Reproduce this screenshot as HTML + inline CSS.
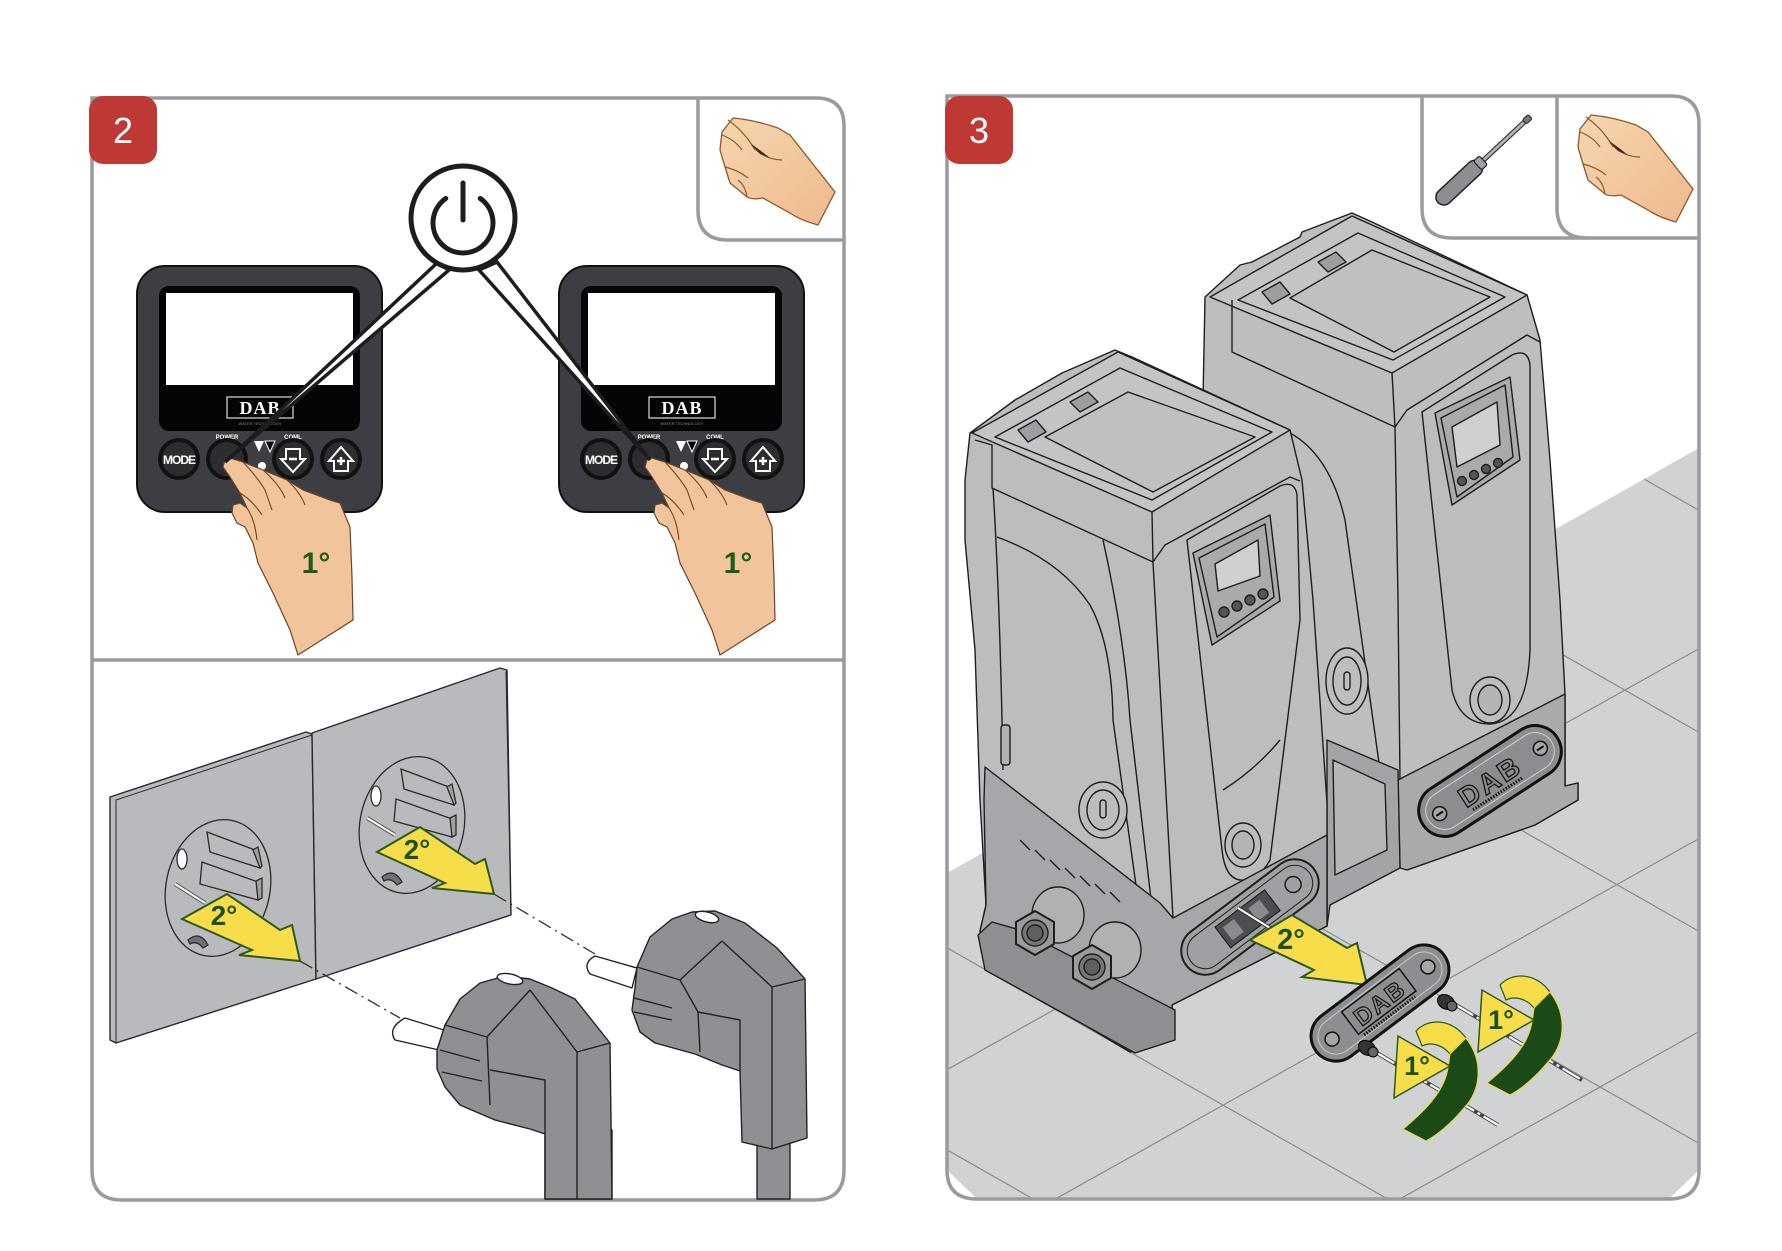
<!DOCTYPE html>
<html><head><meta charset="utf-8"><style>
html,body{margin:0;padding:0;background:#fff;width:1782px;height:1251px;overflow:hidden;}
svg{display:block;}
.sans{font-family:"Liberation Sans",sans-serif;}
.serif{font-family:"Liberation Serif",serif;}
</style></head><body>
<svg width="1782" height="1251" viewBox="0 0 1782 1251" xmlns="http://www.w3.org/2000/svg" class="sans">
<defs>
<clipPath id="floorClip"><polygon points="947,873 1699,448 1699,1170 1669,1199 977,1199 947,1170"/></clipPath>
<linearGradient id="skin" x1="0" y1="0" x2="1" y2="1"><stop offset="0" stop-color="#f6d6b0"/><stop offset="1" stop-color="#eeb98c"/></linearGradient>
</defs>
<rect width="1782" height="1251" fill="#fff"/>

<!-- ===== RIGHT PANEL FLOOR ===== -->
<polygon points="947,873 1699,448 1699,1170 1669,1199 977,1199 947,1170" fill="#d1d2d4"/>
<g clip-path="url(#floorClip)" stroke="#8a8b8e" stroke-width="1.2" fill="none">
<line x1="947" y1="1069.7" x2="1699" y2="648.6"/>
<line x1="1053.6" y1="1200" x2="1699" y2="838.6"/>
<line x1="1398" y1="1200" x2="1699" y2="1031.6"/>
<line x1="947" y1="81.8" x2="1699" y2="510.4"/>
<line x1="947" y1="303.8" x2="1699" y2="732.4"/>
<line x1="947" y1="502.8" x2="1699" y2="931.4"/>
<line x1="947" y1="714.8" x2="1699" y2="1143.4"/>
<line x1="947" y1="947.8" x2="1389.5" y2="1200"/>
<line x1="947" y1="1149.8" x2="1035" y2="1200"/>
</g>

<!-- ===== BACK PUMP ===== -->
<g stroke="#1e1e1e" stroke-width="1.4" stroke-linejoin="round">
<polygon points="1205,297 1240,265 1252,262 1300,237 1302,232 1352,213 1372,222 1527,295 1540,340 1550,460 1560,600 1565,694 1565,786 1578,783 1578,800 1535,825 1407,870 1330,840 1290,700 1250,450 1203,400" fill="#bdbec0"/>
<polygon points="1210,297 1352,216 1527,295 1392,373" fill="#c3c4c6"/>
<polygon points="1238,300 1358,233 1505,297 1393,360" fill="none"/>
<polygon points="1290,298 1372,250 1490,297 1394,352" fill="#bfc0c2"/>
<polygon points="1262,292 1280,282 1290,294 1272,304" fill="#9d9ea1"/>
<polygon points="1318,262 1336,252 1346,262 1328,272" fill="#9d9ea1"/>
<polyline points="1232,300 1232,352 1395,427 1392,373" fill="none"/>
<polyline points="1395,427 1407,410 1527,335 1540,342" fill="none"/>
<polyline points="1395,427 1398,600 1400,780" fill="none"/>
<path d="M1290,433 Q1330,455 1345,520 L1380,770" fill="none"/>
<path d="M1422,412 L1512,355 Q1528,348 1530,365 L1530,650 Q1527,722 1490,724 Q1460,724 1452,690 Z" fill="#bcbdbf"/>
<polygon points="1435,413 1510,377 1520,460 1452,505" fill="#a9aaac"/>
<polygon points="1441,418 1505,385 1513,457 1457,497" fill="none"/>
<polygon points="1452,427 1497,402 1500,445 1457,467" fill="#cfd0d2"/>
<circle cx="1462" cy="481" r="4.5" fill="#555"/><circle cx="1474" cy="475" r="4.5" fill="#555"/><circle cx="1486" cy="469" r="4.5" fill="#555"/><circle cx="1498" cy="463" r="4.5" fill="#555"/>
<ellipse cx="1490" cy="700" rx="20" ry="23" fill="none"/>
<ellipse cx="1490" cy="700" rx="12" ry="15" fill="#b3b4b6"/>
<ellipse cx="1347" cy="681" rx="21" ry="33" fill="#bdbec0"/>
<ellipse cx="1347" cy="681" rx="14" ry="24" fill="none"/>
<rect x="1344" y="672" width="6" height="18" rx="3" fill="none"/>
<polygon points="1398,780 1565,694 1565,786 1578,783 1578,800 1535,825 1407,870 1400,868" fill="#a9aaac"/>
<polygon points="1327,740 1398,770 1400,868 1330,905 1327,926" fill="#a3a4a7"/>
<polygon points="1333,760 1385,784 1387,850 1335,875" fill="#b5b6b8"/>
</g>
<g transform="translate(1490,781) rotate(-33)">
<rect x="-80" y="-26" width="160" height="52" rx="26" fill="#8c8d90" stroke="#111" stroke-width="3"/>
<rect x="-73" y="-19" width="146" height="38" rx="19" fill="none" stroke="#d0d1d3" stroke-width="1"/>
<text x="0" y="10" text-anchor="middle" font-size="28" font-weight="bold" fill="#8c8d90" stroke="#111" stroke-width="1.3" letter-spacing="3">DAB</text>
<line x1="-30" y1="15" x2="30" y2="15" stroke="#111" stroke-width="3" stroke-dasharray="1.5 1.5"/>
<circle cx="-60" cy="0" r="7" fill="#a5a6a8" stroke="#111" stroke-width="1.5"/><line x1="-64" y1="0" x2="-56" y2="0" stroke="#111" stroke-width="2"/>
<circle cx="60" cy="0" r="7" fill="#a5a6a8" stroke="#111" stroke-width="1.5"/><line x1="56" y1="0" x2="64" y2="0" stroke="#111" stroke-width="2"/>
</g>

<!-- ===== FRONT PUMP ===== -->
<g stroke="#1e1e1e" stroke-width="1.4" stroke-linejoin="round">
<polygon points="970,433 1015,400 1062,373 1115,350 1132,357 1290,430 1302,480 1313,600 1327,803 1327,926 1172,1005 1172,1036 1130,1052 990,968 980,931 986,905 980,800 975,650 965,540 965,480" fill="#bcbdbf"/>
<polygon points="972,433 1118,352 1290,430 1152,512" fill="#c3c4c6"/>
<polygon points="995,437 1120,368 1272,432 1152,500" fill="none"/>
<polygon points="1045,437 1128,392 1255,437 1153,492" fill="#bfc0c2"/>
<polygon points="1018,430 1036,420 1046,432 1028,442" fill="#9d9ea1"/>
<polygon points="1070,402 1088,392 1098,402 1080,412" fill="#9d9ea1"/>
<polyline points="975,440 992,445 992,488 1153,562" fill="none"/>
<polyline points="1153,562 1165,545 1290,477 1300,481" fill="none"/>
<polyline points="1152,512 1153,562 1173,918" fill="none"/>
<path d="M993,488 Q1000,600 1003,770" fill="none"/>
<path d="M997,537 Q1060,560 1090,605 Q1112,645 1113,720 L1140,914" fill="none"/>
<path d="M1103,540 Q1125,640 1130,720 L1153,916" fill="none"/>
<path d="M1187,540 L1280,486 Q1295,480 1297,495 L1300,620 L1270,860 Q1258,882 1240,880 Q1225,878 1222,850 Z" fill="#bcbdbf"/>
<path d="M1223,790 Q1255,770 1280,740" fill="none"/>
<polygon points="1193,553 1270,515 1280,601 1212,645" fill="#a9aaac"/>
<polygon points="1199,558 1265,524 1274,597 1217,637" fill="none"/>
<polygon points="1215,564 1258,540 1260,576 1218,591" fill="#cfd0d2"/>
<circle cx="1224" cy="612" r="5" fill="#555"/><circle cx="1237" cy="606" r="5" fill="#555"/><circle cx="1250" cy="600" r="5" fill="#555"/><circle cx="1263" cy="594" r="5" fill="#555"/>
<ellipse cx="1243" cy="845" rx="18" ry="22" fill="none"/>
<ellipse cx="1243" cy="845" rx="11" ry="14" fill="#b3b4b6"/>
<ellipse cx="1103" cy="810" rx="24" ry="28" fill="#bcbdbf"/>
<ellipse cx="1103" cy="810" rx="16" ry="20" fill="none"/>
<rect x="1100" y="800" width="6" height="18" rx="3" fill="none"/>
<rect x="1001" y="725" width="9" height="40" rx="3" fill="#b0b1b3"/>
<polygon points="985,767 1160,903 1173,918 1327,835 1327,926 1172,1005 1172,1036 1130,1052 990,968 980,931 986,905 984,800" fill="#a6a7aa"/>
<path d="M1020,840 l10,10 M1035,850 l10,10 M1050,860 l10,10 M1065,868 l10,10 M1080,876 l10,10 M1095,884 l10,10 M1110,892 l10,10" fill="none"/>
<polygon points="978,935 992,922 1020,930 1175,1010 1175,1040 1135,1053 985,970" fill="#8e8f92"/>
<ellipse cx="1058" cy="915" rx="26" ry="28" fill="#b0b1b3"/>
<ellipse cx="1115" cy="950" rx="26" ry="28" fill="#b0b1b3"/>
<polygon points="1035,911 1054,922 1054,944 1035,955 1016,944 1016,922" fill="#9a9b9e" stroke-width="2"/>
<circle cx="1035" cy="933" r="13" fill="#76777a"/><circle cx="1035" cy="933" r="8" fill="#5f6063"/>
<polygon points="1092,945 1111,956 1111,978 1092,989 1073,978 1073,956" fill="#9a9b9e" stroke-width="2"/>
<circle cx="1092" cy="967" r="13" fill="#76777a"/><circle cx="1092" cy="967" r="8" fill="#5f6063"/>
</g>
<g transform="translate(1250,917) rotate(-37)">
<rect x="-80" y="-24" width="160" height="48" rx="24" fill="#9fa0a3" stroke="#1e1e1e" stroke-width="2"/>
<rect x="-74" y="-18" width="148" height="36" rx="18" fill="none" stroke="#1e1e1e" stroke-width="1"/>
<rect x="-34" y="-13" width="62" height="26" fill="#4d4e51" stroke="#111"/>
<rect x="-28" y="-8" width="14" height="16" fill="#8a8b8e"/><rect x="4" y="-8" width="14" height="16" fill="#8a8b8e"/>
<circle cx="54" cy="0" r="8" fill="none" stroke="#1e1e1e" stroke-width="1.5"/>
</g>
<line x1="1238" y1="908" x2="1270" y2="928" stroke="#333" stroke-width="4"/>
<line x1="1238" y1="908" x2="1270" y2="928" stroke="#fff" stroke-width="2"/>

<!-- 2° arrow right panel -->
<polygon points="1250,940 1292,915 1347,948 1357,943 1367,985 1302,977 1314,970" fill="#f7dd4a" stroke="#2d5a1a" stroke-width="2" stroke-linejoin="miter"/>
<text x="1291" y="949" text-anchor="middle" font-size="29" font-weight="bold" fill="#1e4f16">2°</text>

<!-- removed plate -->
<g transform="translate(1380,1003) rotate(-37)">
<rect x="-80" y="-25" width="160" height="50" rx="25" fill="#8d8e91" stroke="#111" stroke-width="3"/>
<rect x="-73" y="-18" width="146" height="36" rx="18" fill="none" stroke="#cacbcd" stroke-width="1"/>
<rect x="-36" y="-16" width="72" height="28" fill="none" stroke="#111" stroke-width="1.5"/>
<text x="0" y="8" text-anchor="middle" font-size="24" font-weight="bold" fill="#8d8e91" stroke="#111" stroke-width="1.2" letter-spacing="2">DAB</text>
<line x1="-32" y1="16" x2="32" y2="16" stroke="#111" stroke-width="3" stroke-dasharray="1.5 1.5"/>
<circle cx="-60" cy="0" r="7" fill="#a5a6a8" stroke="#111" stroke-width="1.5"/>
<circle cx="60" cy="0" r="7" fill="#a5a6a8" stroke="#111" stroke-width="1.5"/>
</g>

<!-- dash-dot screw lines -->
<line x1="1456" y1="1005" x2="1582" y2="1080" stroke="#444" stroke-width="4"/>
<line x1="1456" y1="1005" x2="1582" y2="1080" stroke="#fff" stroke-width="2.2" stroke-dasharray="20 4 3 4"/>
<line x1="1377" y1="1053" x2="1498" y2="1125" stroke="#444" stroke-width="4"/>
<line x1="1377" y1="1053" x2="1498" y2="1125" stroke="#fff" stroke-width="2.2" stroke-dasharray="20 4 3 4"/>
<!-- screws -->
<g stroke="#000" stroke-width="1">
<ellipse cx="1446" cy="1002" rx="9" ry="7" transform="rotate(30 1446 1002)" fill="#333"/>
<ellipse cx="1452" cy="1006" rx="5" ry="5" fill="#666"/>
<ellipse cx="1367" cy="1048" rx="9" ry="7" transform="rotate(30 1367 1048)" fill="#333"/>
<ellipse cx="1373" cy="1052" rx="5" ry="5" fill="#666"/>
</g>

<!-- rotation arrows -->
<g>
<path d="M1500,985 C1512,972 1535,972 1550,992 L1534,1008 C1526,998 1514,996 1506,1000 Z" fill="#f7dd4a" stroke="#2d5a1a" stroke-width="1.2"/>
<path d="M1534,1008 L1550,992 C1568,1015 1565,1045 1548,1062 C1535,1078 1520,1090 1510,1095 L1487,1083 C1505,1068 1524,1050 1530,1030 C1533,1020 1533,1013 1534,1008 Z" fill="#1c4a17" stroke="#e8d84a" stroke-width="1.2"/>
<polygon points="1482,990 1534,1020 1478,1052" fill="#f7dd4a" stroke="#2d5a1a" stroke-width="1.5"/>
<text x="1501" y="1029" text-anchor="middle" font-size="27" font-weight="bold" fill="#1e4f16">1°</text>
</g>
<g transform="translate(-84,46)">
<path d="M1500,985 C1512,972 1535,972 1550,992 L1534,1008 C1526,998 1514,996 1506,1000 Z" fill="#f7dd4a" stroke="#2d5a1a" stroke-width="1.2"/>
<path d="M1534,1008 L1550,992 C1568,1015 1565,1045 1548,1062 C1535,1078 1520,1090 1510,1095 L1487,1083 C1505,1068 1524,1050 1530,1030 C1533,1020 1533,1013 1534,1008 Z" fill="#1c4a17" stroke="#e8d84a" stroke-width="1.2"/>
<polygon points="1482,990 1534,1020 1478,1052" fill="#f7dd4a" stroke="#2d5a1a" stroke-width="1.5"/>
<text x="1501" y="1029" text-anchor="middle" font-size="27" font-weight="bold" fill="#1e4f16">1°</text>
</g>

<!-- ===== PANEL BORDERS ===== -->
<g fill="none" stroke="#9a9b9f" stroke-width="3.5">
<path d="M92,98 L816,98 Q844,98 844,126 L844,1170 Q844,1200 814,1200 L122,1200 Q92,1200 92,1170 Z"/>
<line x1="92" y1="660" x2="844" y2="660"/>
<path d="M698,98 L698,210 Q698,240 728,240 L844,240"/>
<path d="M947,96 L1671,96 Q1699,96 1699,124 L1699,1170 Q1699,1199 1669,1199 L977,1199 Q947,1199 947,1170 Z"/>
<path d="M1422,96 L1422,208 Q1422,238 1452,238 L1699,238"/>
<path d="M1557,96 L1557,208 Q1557,238 1587,238"/>
</g>

<!-- badges -->
<rect x="89" y="96" width="68" height="68" rx="14" fill="#bf3934"/>
<text x="123" y="143" text-anchor="middle" font-size="36" fill="#fff">2</text>
<rect x="945" y="96" width="68" height="68" rx="14" fill="#bf3934"/>
<text x="979" y="143" text-anchor="middle" font-size="36" fill="#fff">3</text>

<!-- icon hands -->
<g>
<path d="M733,118 Q755,120 778,128 L790,135 L835,192 L818,225 Q800,220 790,213 L763,198 Q752,200 747,197 L730,183 L725,167 L720,150 L722,132 Z" fill="url(#skin)" stroke="#8b5a2b" stroke-width="1.3"/>
<path d="M728,120 Q745,132 755,150 M722,135 Q735,140 742,150 M725,167 Q738,170 748,178 M747,197 Q745,185 738,180 M752,146 Q765,160 782,160" fill="none" stroke="#8b5a2b" stroke-width="1.2"/>
<path d="M750,143 Q760,150 770,158 L760,154 Z" fill="#3a2a1a"/>
</g>
<g transform="translate(858,-3)">
<path d="M733,118 Q755,120 778,128 L790,135 L835,192 L818,225 Q800,220 790,213 L763,198 Q752,200 747,197 L730,183 L725,167 L720,150 L722,132 Z" fill="url(#skin)" stroke="#8b5a2b" stroke-width="1.3"/>
<path d="M728,120 Q745,132 755,150 M722,135 Q735,140 742,150 M725,167 Q738,170 748,178 M747,197 Q745,185 738,180 M752,146 Q765,160 782,160" fill="none" stroke="#8b5a2b" stroke-width="1.2"/>
<path d="M750,143 Q760,150 770,158 L760,154 Z" fill="#3a2a1a"/>
</g>
<!-- screwdriver -->
<g transform="translate(1460,182) rotate(-43)">
<rect x="-30" y="-8" width="58" height="16" rx="8" fill="#8d8e91" stroke="#222" stroke-width="1.5"/>
<rect x="24" y="-6" width="8" height="12" rx="2" fill="#a0a1a4" stroke="#222" stroke-width="1.2"/>
<rect x="32" y="-2" width="58" height="4" fill="#b0b1b4" stroke="#222" stroke-width="1"/>
<rect x="88" y="-3" width="8" height="6" rx="2" fill="#777" stroke="#222" stroke-width="1"/>
</g>

<!-- ===== LEFT DISPLAYS ===== -->
<g>
<rect x="137" y="266" width="245" height="246" rx="28" fill="#3d3e43" stroke="#111" stroke-width="2"/>
<rect x="159" y="286" width="201" height="145" rx="10" fill="#050505"/>
<rect x="166" y="293" width="187" height="92" fill="#fff"/>
<rect x="227" y="397" width="66" height="21" fill="none" stroke="#ddd" stroke-width="1.2"/>
<text x="260" y="414" text-anchor="middle" class="serif" font-weight="bold" font-size="18" fill="#fff" letter-spacing="1">DAB</text>
<text x="260" y="425" text-anchor="middle" font-size="4" fill="#888">WATER TECHNOLOGY</text>
<text x="227" y="439" text-anchor="middle" font-size="6" font-weight="bold" fill="#fff">POWER</text>
<text x="293" y="439" text-anchor="middle" font-size="6" font-weight="bold" fill="#fff">COML</text>
<polygon points="254,441 264,441 259,452" fill="#fff"/><polygon points="265,441 275,441 270,452" fill="#000" stroke="#fff" stroke-width="1"/>
<circle cx="262" cy="466" r="4" fill="#fff"/>
<circle cx="179" cy="459" r="21" fill="#111"/><circle cx="179" cy="459" r="17" fill="#2c2d31"/>
<circle cx="227" cy="459" r="21" fill="#111"/><circle cx="227" cy="459" r="17" fill="#2c2d31"/>
<circle cx="293" cy="459" r="21" fill="#111"/><circle cx="293" cy="459" r="17" fill="#2c2d31"/>
<circle cx="341" cy="459" r="21" fill="#111"/><circle cx="341" cy="459" r="17" fill="#2c2d31"/>
<text x="179" y="464" text-anchor="middle" font-size="12" font-weight="bold" fill="#fff" letter-spacing="-1">MODE</text>
<path d="M286,449 L300,449 L300,459 L305,459 L293,472 L281,459 L286,459 Z" fill="none" stroke="#fff" stroke-width="2"/>
<line x1="289" y1="459" x2="297" y2="459" stroke="#fff" stroke-width="2.5"/>
<path d="M334,471 L348,471 L348,461 L353,461 L341,447 L329,461 L334,461 Z" fill="none" stroke="#fff" stroke-width="2"/>
<path d="M337,461 L345,461 M341,457 L341,465" stroke="#fff" stroke-width="2.5"/>
</g>
<g>
<rect x="559" y="266" width="245" height="246" rx="28" fill="#3d3e43" stroke="#111" stroke-width="2"/>
<rect x="581" y="286" width="201" height="145" rx="10" fill="#050505"/>
<rect x="588" y="293" width="187" height="92" fill="#fff"/>
<rect x="649" y="397" width="66" height="21" fill="none" stroke="#ddd" stroke-width="1.2"/>
<text x="682" y="414" text-anchor="middle" class="serif" font-weight="bold" font-size="18" fill="#fff" letter-spacing="1">DAB</text>
<text x="682" y="425" text-anchor="middle" font-size="4" fill="#888">WATER TECHNOLOGY</text>
<text x="649" y="439" text-anchor="middle" font-size="6" font-weight="bold" fill="#fff">POWER</text>
<text x="715" y="439" text-anchor="middle" font-size="6" font-weight="bold" fill="#fff">COML</text>
<polygon points="676,441 686,441 681,452" fill="#fff"/><polygon points="687,441 697,441 692,452" fill="#000" stroke="#fff" stroke-width="1"/>
<circle cx="684" cy="466" r="4" fill="#fff"/>
<circle cx="601" cy="459" r="21" fill="#111"/><circle cx="601" cy="459" r="17" fill="#2c2d31"/>
<circle cx="649" cy="459" r="21" fill="#111"/><circle cx="649" cy="459" r="17" fill="#2c2d31"/>
<circle cx="715" cy="459" r="21" fill="#111"/><circle cx="715" cy="459" r="17" fill="#2c2d31"/>
<circle cx="763" cy="459" r="21" fill="#111"/><circle cx="763" cy="459" r="17" fill="#2c2d31"/>
<text x="601" y="464" text-anchor="middle" font-size="12" font-weight="bold" fill="#fff" letter-spacing="-1">MODE</text>
<path d="M708,449 L722,449 L722,459 L727,459 L715,472 L703,459 L708,459 Z" fill="none" stroke="#fff" stroke-width="2"/>
<line x1="711" y1="459" x2="719" y2="459" stroke="#fff" stroke-width="2.5"/>
<path d="M756,471 L770,471 L770,461 L775,461 L763,447 L751,461 L756,461 Z" fill="none" stroke="#fff" stroke-width="2"/>
<path d="M759,461 L767,461 M763,457 L763,465" stroke="#fff" stroke-width="2.5"/>
</g>

<!-- hands -->
<g>
<path d="M225,460 L230,458 L243,462 L263,470 L287,480 L303,490 L330,500 L340,503 L350,527 L352,577 L353,620 L298,655 L290,630 L273,593 L258,563 L253,543 L245,527 L237,523 L232,513 L233,505 L240,503 L247,508 L240,493 L230,477 L223,467 Z" fill="#f2c49b" stroke="#6b4526" stroke-width="1.2"/>
<path d="M243,462 Q258,478 265,490 M263,470 Q280,485 285,498 M287,480 Q300,492 305,505 M240,493 Q252,500 262,515 M247,508 Q255,520 257,540 M265,490 L272,510" fill="none" stroke="#6b4526" stroke-width="1.1"/>
<text x="316" y="573" text-anchor="middle" font-size="30" font-weight="bold" fill="#1f5b1e">1°</text>
</g>
<g transform="translate(422,0)">
<path d="M225,460 L230,458 L243,462 L263,470 L287,480 L303,490 L330,500 L340,503 L350,527 L352,577 L353,620 L298,655 L290,630 L273,593 L258,563 L253,543 L245,527 L237,523 L232,513 L233,505 L240,503 L247,508 L240,493 L230,477 L223,467 Z" fill="#f2c49b" stroke="#6b4526" stroke-width="1.2"/>
<path d="M243,462 Q258,478 265,490 M263,470 Q280,485 285,498 M287,480 Q300,492 305,505 M240,493 Q252,500 262,515 M247,508 Q255,520 257,540 M265,490 L272,510" fill="none" stroke="#6b4526" stroke-width="1.1"/>
<text x="316" y="573" text-anchor="middle" font-size="30" font-weight="bold" fill="#1f5b1e">1°</text>
</g>

<!-- leaders + power circle -->
<polygon points="437,263 449,270 225,462" fill="#fff" stroke="#1d1d1d" stroke-width="3.5" stroke-linejoin="miter"/>
<polygon points="479,270 497,262 650,460" fill="#fff" stroke="#1d1d1d" stroke-width="3.5" stroke-linejoin="miter"/>
<circle cx="463" cy="218" r="52" fill="#fff" stroke="#1d1d1d" stroke-width="5"/>
<path d="M445.8,198.4 A30,30 0 1 0 480.2,198.4" fill="none" stroke="#1d1d1d" stroke-width="5" stroke-linecap="round"/>
<line x1="463" y1="183" x2="463" y2="220" stroke="#1d1d1d" stroke-width="5" stroke-linecap="round"/>

<!-- ===== OUTLETS ===== -->
<g stroke="#2a2a2a" stroke-width="1.4" stroke-linejoin="round">
<polygon points="110,797 306,732 312,734 316,979 116,1043 110,1040" fill="#b9babd"/>
<polyline points="116,1043 116,800 312,735" fill="none" stroke-width="1"/>
<polygon points="312,733 500,668 507,670 511,915 316,979" fill="#b9babd"/>
<polyline points="507,670 506,672 511,915" fill="none" stroke-width="1"/>
</g>
<g stroke="#2a2a2a" stroke-width="1.3">
<ellipse cx="218" cy="888" rx="52" ry="69" transform="rotate(12 218 888)" fill="#b9babd"/>
<polygon points="207,832 255,850 260,868 210,852" fill="#b9babd"/>
<polygon points="253,850 258,847 262,866 260,868" fill="#9fa0a3"/>
<polygon points="202,862 258,882 258,900 200,884" fill="#b9babd"/>
<polygon points="256,881 262,878 262,898 258,900" fill="#9fa0a3"/>
<ellipse cx="182" cy="859" rx="5" ry="10" fill="#fff"/>
<path d="M188,940 Q200,930 208,945 L203,948 Q197,940 190,944 Z" fill="#707174"/>
</g>
<g transform="translate(194,-63)" stroke="#2a2a2a" stroke-width="1.3">
<ellipse cx="218" cy="888" rx="52" ry="69" transform="rotate(12 218 888)" fill="#b9babd"/>
<polygon points="207,832 255,850 260,868 210,852" fill="#b9babd"/>
<polygon points="253,850 258,847 262,866 260,868" fill="#9fa0a3"/>
<polygon points="202,862 258,882 258,900 200,884" fill="#b9babd"/>
<polygon points="256,881 262,878 262,898 258,900" fill="#9fa0a3"/>
<ellipse cx="182" cy="859" rx="5" ry="10" fill="#fff"/>
<path d="M188,940 Q200,930 208,945 L203,948 Q197,940 190,944 Z" fill="#707174"/>
</g>
<line x1="175" y1="884" x2="205" y2="903" stroke="#555" stroke-width="4"/>
<line x1="175" y1="884" x2="205" y2="903" stroke="#fff" stroke-width="2"/>
<line x1="367" y1="818" x2="395" y2="835" stroke="#555" stroke-width="4"/>
<line x1="367" y1="818" x2="395" y2="835" stroke="#fff" stroke-width="2"/>
<!-- 2° arrows -->
<polygon points="182,919 227,894 280,930 292,925 300,961 239,955 252,950" fill="#f7dd4a" stroke="#2d5a1a" stroke-width="2"/>
<text x="224" y="925" text-anchor="middle" font-size="28" font-weight="bold" fill="#1e4f16">2°</text>
<polygon points="377,852 420,827 475,864 485,859 494,894 432,888 445,883" fill="#f7dd4a" stroke="#2d5a1a" stroke-width="2"/>
<text x="417" y="859" text-anchor="middle" font-size="28" font-weight="bold" fill="#1e4f16">2°</text>
<line x1="300" y1="961" x2="400" y2="1018" stroke="#333" stroke-width="1.3" stroke-dasharray="14 5 2 5"/>
<line x1="494" y1="894" x2="595" y2="954" stroke="#333" stroke-width="1.3" stroke-dasharray="14 5 2 5"/>

<!-- ===== PLUGS ===== -->
<g stroke="#222" stroke-width="1.4" stroke-linejoin="round">
<rect x="757" y="1140" width="33" height="59" fill="#8f9094"/>
<path d="M595,956 L637,968 L632,988 L590,974 Q582,963 595,956 Z" fill="#fff"/>
<polygon points="637,967 650,937 672,919 692,912 715,911 745,923 777,948 805,979 807,1138 772,1149 742,1142 740,1071 722,1065 695,1054 655,1043 640,1032 632,1010 635,988" fill="#8f9094"/>
<polyline points="772,987 772,1149" fill="none"/>
<polyline points="722,941 772,987 805,979" fill="none"/>
<path d="M637,967 L680,980 L698,1012 L700,1052 M680,980 L722,941 M698,1012 L740,1020 L740,1071 M634,998 L672,1008 M634,1012 L672,1020" fill="none"/>
<ellipse cx="707" cy="917" rx="12" ry="5" transform="rotate(15 707 917)" fill="#fff"/>

<rect x="545" y="1130" width="67" height="69" fill="#8f9094"/>
<path d="M405,1018 L444,1030 L439,1050 L395,1040 Q387,1028 405,1018 Z" fill="#fff"/>
<polygon points="445,1025 460,999 480,983 505,976 530,979 552,988 575,999 610,1043 612,1199 545,1199 545,1134 530,1129 495,1120 460,1105 445,1087 437,1069 437,1050" fill="#8f9094"/>
<polyline points="577,1052 577,1199" fill="none"/>
<polyline points="530,990 577,1052 610,1043" fill="none"/>
<path d="M445,1025 L487,1037 L490,1105 M487,1037 L530,990 M490,1070 L545,1080 L545,1134 M440,1050 L480,1061 M442,1072 L482,1081" fill="none"/>
<ellipse cx="510" cy="979" rx="13" ry="5" transform="rotate(12 510 979)" fill="#fff"/>
</g>
</svg>
</body></html>
